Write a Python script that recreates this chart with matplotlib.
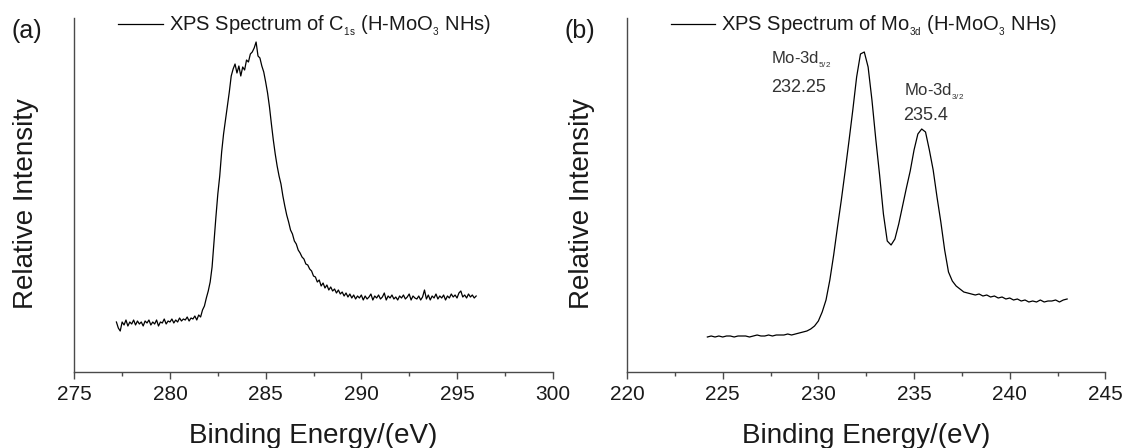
import numpy as np
import matplotlib
matplotlib.use("Agg")
import matplotlib.pyplot as plt
from matplotlib.ticker import MultipleLocator

plt.rcParams['font.family'] = ['Liberation Sans', 'DejaVu Sans']
plt.rcParams['mathtext.fontset'] = 'custom'
plt.rcParams['mathtext.rm'] = 'Liberation Sans'
plt.rcParams['mathtext.it'] = 'Liberation Sans'
plt.rcParams['mathtext.bf'] = 'Liberation Sans'

# ---------------- data (a): C 1s (0.1 eV steps from 277.2 eV) ----------------
c1s_start, c1s_step = 277.2, 0.1
c1s_intensity = [
    50, 44, 41, 50, 47, 52, 46, 50, 48, 52,        # 277.2
    47, 51, 48, 50, 46, 51, 49, 52, 47, 50,        # 278.2
    48, 52, 46, 50, 49, 53, 48, 51, 50, 53,        # 279.2
    49, 52, 50, 54, 51, 53, 52, 55, 51, 54,        # 280.2
    53, 56, 52, 57, 55, 62, 66, 74, 81, 90,        # 281.2
    105, 130, 155, 178, 196, 220, 238, 252, 266, 280,   # 282.2
    296, 303, 308, 299, 306, 296, 305, 302, 312, 310,   # 283.2
    318, 320, 324, 330, 316, 314, 306, 300, 290, 279,   # 284.2
    265, 248, 232, 218, 206, 196, 188, 176, 166, 157,   # 285.2
    150, 142, 138, 131, 128, 122, 119, 115, 113, 108,   # 286.2
    107, 103, 101, 96, 95, 90, 92, 86, 89, 84,     # 287.2
    87, 82, 85, 81, 83, 79, 82, 78, 80, 76,        # 288.2
    79, 75, 78, 74, 77, 73, 76, 74, 77, 72,        # 289.2
    76, 73, 75, 78, 72, 76, 74, 77, 73, 75,        # 290.2
    79, 72, 76, 74, 77, 73, 75, 72, 76, 74,        # 291.2
    77, 73, 75, 78, 72, 76, 74, 73, 76, 72,        # 292.2
    75, 82, 73, 77, 72, 76, 74, 78, 73, 76,        # 293.2
    74, 77, 72, 76, 74, 78, 75, 77, 74, 79,        # 294.2
    81, 75, 77, 74, 78, 75, 77, 74, 76,            # 295.2
]

# ---------------- data (b): Mo 3d (0.2 eV steps from 224.2 eV) ----------------
mo3d_start, mo3d_step = 224.2, 0.2
mo3d_intensity = [
    35, 36, 35, 36, 35, 36, 36, 35, 36, 36,      # 224.2
    36, 35, 36, 37, 36, 36, 37, 36, 37, 37,      # 226.2
    37, 38, 37, 38, 39, 40, 41, 43, 46, 51,      # 228.2
    60, 72, 92, 117, 145, 172, 201, 231, 262, 295,     # 230.2
    318, 320, 305, 272, 233, 197, 158, 131, 127, 133,  # 232.2
    148, 166, 184, 201, 222, 238, 243, 240, 222, 202,  # 234.2
    175, 150, 122, 100, 91, 86, 83, 80, 79, 78,  # 236.2
    77, 78, 76, 77, 75, 76, 74, 75, 73, 74,      # 238.2
    72, 73, 71, 72, 70, 71, 70, 72, 70, 71,      # 240.2
    71, 72, 70, 72, 73,                          # 242.2
]

c1s_energy = c1s_start + c1s_step * np.arange(len(c1s_intensity))
mo3d_energy = mo3d_start + mo3d_step * np.arange(len(mo3d_intensity))

panel_letters = ['(a)', '(b)']
legend_labels = [r'XPS Spectrum of C$_{{}_{\mathrm{1s}}}$ (H-MoO$_{{}_{\mathrm{3}}}$ NHs)',
                 r'XPS Spectrum of Mo$_{{}_{\mathrm{3d}}}$ (H-MoO$_{{}_{\mathrm{3}}}$ NHs)']
xlims = [(275, 300), (220, 245)]
peak_labels = [(r'Mo-3d$_{{}_{\mathrm{5/2}}}$', '232.25', 227.55, 309, 280),
               (r'Mo-3d$_{{}_{\mathrm{3/2}}}$', '235.4', 234.45, 277, 252)]

W, H = 1126, 448
fig = plt.figure(figsize=(W / 100, H / 100), dpi=100)
fig.patch.set_facecolor('white')

ax_left_px = [74.3, 627.0]
ax_w_px = 478.4
ax_top_px, ax_bot_px = 18.0, 372.0

text_col = '#1a1a1a'
spine_col = '#4a4a4a'

datasets = [(c1s_energy, c1s_intensity), (mo3d_energy, mo3d_intensity)]
for i in range(2):
    ax = fig.add_axes([ax_left_px[i] / W, (H - ax_bot_px) / H,
                       ax_w_px / W, (ax_bot_px - ax_top_px) / H])
    x, y = datasets[i]
    ax.plot(x, y, color='black', lw=0.9, label=legend_labels[i])
    ax.set_xlim(*xlims[i])
    ax.set_ylim(0, ax_bot_px - ax_top_px)
    for s in ['top', 'right']:
        ax.spines[s].set_visible(False)
    for s in ['left', 'bottom']:
        ax.spines[s].set_color(spine_col)
        ax.spines[s].set_linewidth(1.0)
    ax.set_yticks([])
    ax.xaxis.set_major_locator(MultipleLocator(5))
    ax.xaxis.set_minor_locator(MultipleLocator(2.5))
    ax.tick_params(axis='x', which='major', direction='out', length=5, width=1.0,
                   color=spine_col, labelsize=15, labelcolor=text_col, pad=4)
    ax.tick_params(axis='x', which='minor', direction='out', length=3, width=1.0,
                   color=spine_col)

    ax.set_xlabel('Binding Energy/(eV)', fontsize=20, color=text_col)
    ax.xaxis.set_label_coords(0.5, -(443 - ax_bot_px) / (ax_bot_px - ax_top_px))
    ax.xaxis.label.set_verticalalignment('baseline')

    ax.set_ylabel('Relative Intensity', fontsize=20, color=text_col)
    ax.yaxis.set_label_coords(-(ax_left_px[i] - [26, 582][i]) / ax_w_px, 0.475)
    ax.yaxis.label.set_verticalalignment('center')

    leg = ax.legend(loc='center left', bbox_to_anchor=(0.092, 0.977), frameon=False,
                    fontsize=14.5, handlelength=2.2, handletextpad=0.3,
                    borderpad=0, borderaxespad=0)
    for t in leg.get_texts():
        t.set_color(text_col)

    fig.text([27, 580][i] / W, 1 - 31 / H, panel_letters[i], fontsize=18,
             color=text_col, ha='center', va='center')

    if i == 1:
        for name, val, xe, yn, yv in peak_labels:
            ax.text(xe, yn, name, fontsize=12, color='#333333', ha='left', va='baseline')
            ax.text(xe, yv, val, fontsize=13, color='#333333', ha='left', va='baseline')

fig.savefig('out.png', dpi=100, facecolor='white')
